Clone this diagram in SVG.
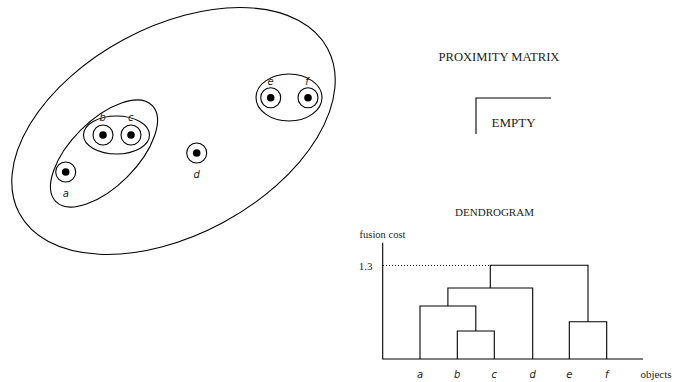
<svg xmlns="http://www.w3.org/2000/svg" width="679" height="382" viewBox="0 0 679 382">
<defs>
<style>
.ln{fill:none;stroke:#000;stroke-width:1.1}
.pt{fill:#000}
.lab{font-family:"DejaVu Sans",sans-serif;font-style:italic;font-size:10px;text-anchor:middle;fill:#222}
.ser{font-family:"Liberation Serif",serif;fill:#222}
</style>
</defs>
<g id="clusters">
<ellipse id="all" class="ln" cx="173.5" cy="131" rx="174.8" ry="104.1" transform="rotate(-28.2 173.5 131)"/>
<ellipse id="abc" class="ln" cx="104" cy="153.5" rx="68" ry="33" transform="rotate(-45 104 153.5)"/>
<ellipse id="bc" class="ln" cx="116.5" cy="135" rx="33" ry="19"/>
<ellipse id="ef" class="ln" cx="289" cy="97.5" rx="33" ry="23.5"/>
</g>
<g id="node-a"><circle class="ln" cx="65.7" cy="172" r="10"/><circle class="pt" cx="65.7" cy="172" r="3.8"/><text class="lab" x="65.7" y="197">a</text></g>
<g id="node-b"><circle class="ln" cx="103" cy="135" r="10"/><circle class="pt" cx="103" cy="135" r="3.8"/><text class="lab" x="102.7" y="121">b</text></g>
<g id="node-c"><circle class="ln" cx="131" cy="135" r="10"/><circle class="pt" cx="131" cy="135" r="3.8"/><text class="lab" x="130.7" y="121">c</text></g>
<g id="node-d"><circle class="ln" cx="196.7" cy="153" r="10"/><circle class="pt" cx="196.7" cy="153" r="3.8"/><text class="lab" x="196.7" y="178">d</text></g>
<g id="node-e"><circle class="ln" cx="270.7" cy="97.7" r="10"/><circle class="pt" cx="270.7" cy="97.7" r="3.8"/><text class="lab" x="270.7" y="85">e</text></g>
<g id="node-f"><circle class="ln" cx="308" cy="97.7" r="10"/><circle class="pt" cx="308" cy="97.7" r="3.8"/><text class="lab" x="307" y="85">f</text></g>
<g id="matrix">
<text class="ser" x="499" y="60.5" font-size="12.6" text-anchor="middle">PROXIMITY MATRIX</text>
<path class="ln" d="M476 134V98H551"/>
<text class="ser" x="513.5" y="126.5" font-size="13" text-anchor="middle">EMPTY</text>
</g>
<g id="dendrogram">
<text class="ser" x="494.5" y="215.5" font-size="11" text-anchor="middle">DENDROGRAM</text>
<text class="ser" x="382.5" y="237.5" font-size="10.5" text-anchor="middle">fusion cost</text>
<text class="ser" x="365.5" y="269.5" font-size="11" text-anchor="middle">1.3</text>
<path class="ln" d="M382.7 242.7V359H643"/>
<path d="M383 265.5H490" fill="none" stroke="#000" stroke-width="0.9" stroke-dasharray="1 2"/>
<g id="connectors">
<path class="ln" d="M457.3 359V331H494.3V359"/>
<path class="ln" d="M420 359V306H475.8V331"/>
<path class="ln" d="M447.9 306V288H532.7V359"/>
<path class="ln" d="M569.3 359V321.7H606.7V359"/>
<path class="ln" d="M490.3 288V265.3H588V321.7"/>
</g>
<text class="lab" x="420" y="378">a</text>
<text class="lab" x="457.3" y="378">b</text>
<text class="lab" x="494.3" y="378">c</text>
<text class="lab" x="532.7" y="378">d</text>
<text class="lab" x="569.3" y="378">e</text>
<text class="lab" x="606.7" y="378">f</text>
<text class="ser" x="656" y="377.5" font-size="11" text-anchor="middle">objects</text>
</g>
</svg>
